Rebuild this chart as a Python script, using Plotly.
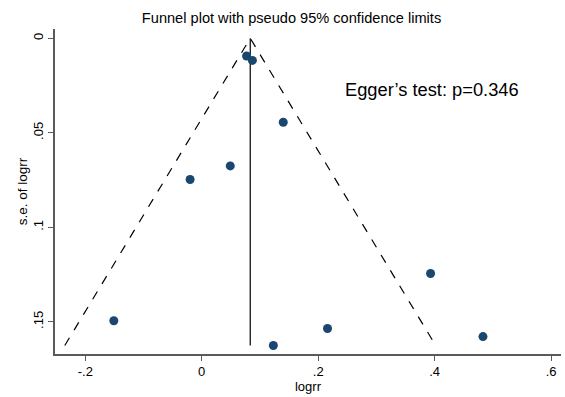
import plotly.graph_objects as go

# Study estimates
logrr = [0.077, 0.087, 0.140, 0.049, -0.020, -0.151, 0.123, 0.216, 0.393, 0.483]
se_logrr = [0.0094, 0.0117, 0.0444, 0.0675, 0.0747, 0.1494, 0.1625, 0.1535, 0.1244, 0.1578]

# Pooled (fixed-effect) estimate and funnel limits
theta = 0.0833
se_max = 0.1625
z = 1.96

x_ticks = [-0.2, 0, 0.2, 0.4, 0.6]
x_ticktext = ["-.2", "0", ".2", ".4", ".6"]
y_ticks = [0, 0.05, 0.1, 0.15]
y_ticktext = ["0", ".05", ".1", ".15"]

FONT = "Liberation Sans, Arial, Helvetica, sans-serif"

fig = go.Figure()

# Pseudo 95% confidence limits (dashed)
fig.add_trace(go.Scatter(
    x=[theta - z * se_max, theta, theta + z * se_max],
    y=[se_max, 0, se_max],
    mode="lines",
    line=dict(color="black", width=1.2, dash="dash"),
    hoverinfo="skip", showlegend=False,
))
# Pooled estimate line
fig.add_trace(go.Scatter(
    x=[theta, theta], y=[0, se_max],
    mode="lines",
    line=dict(color="black", width=1.2),
    hoverinfo="skip", showlegend=False,
))
# Studies
fig.add_trace(go.Scatter(
    x=logrr, y=se_logrr,
    mode="markers",
    marker=dict(color="#1a476f", size=9),
    showlegend=False,
))

fig.add_annotation(
    x=0.395, y=0.027, xref="x", yref="y",
    text="Egger’s test: p=0.346",
    showarrow=False,
    font=dict(family=FONT, size=18.3, color="black"),
)

fig.update_layout(
    width=565, height=397,
    margin=dict(l=55, r=4, t=29, b=43),
    paper_bgcolor="white", plot_bgcolor="white",
    font=dict(family=FONT, color="black"),
    title=dict(
        text="Funnel plot with pseudo 95% confidence limits",
        x=0.516, xanchor="center", y=0.955, yanchor="middle",
        font=dict(family=FONT, size=14.6, color="black"),
    ),
    showlegend=False,
)

fig.update_xaxes(
    range=[-0.252, 0.617], automargin=False,
    tickvals=x_ticks, ticktext=x_ticktext,
    showgrid=False, zeroline=False,
    showline=True, linecolor="#5a5a5a", linewidth=1.5,
    ticks="outside", ticklen=5, tickcolor="#5a5a5a", tickwidth=1.2,
    tickfont=dict(family=FONT, size=13, color="black"),
    title=dict(text="logrr", font=dict(family=FONT, size=13, color="black"), standoff=2),
)
fig.update_yaxes(
    range=[0.167, -0.0049], automargin=False,
    tickvals=y_ticks, ticktext=y_ticktext, tickangle=-90,
    showgrid=False, zeroline=False,
    showline=True, linecolor="#5a5a5a", linewidth=1.5,
    ticks="outside", ticklen=5, tickcolor="#5a5a5a", tickwidth=1.2,
    tickfont=dict(family=FONT, size=13, color="black"),
    title=dict(text="s.e. of logrr", font=dict(family=FONT, size=13.5, color="black"), standoff=0),
)

fig.write_html(
    "out.html",
    config={"displayModeBar": False},
    post_script="document.body.style.margin='0';document.body.style.overflow='hidden';",
)
